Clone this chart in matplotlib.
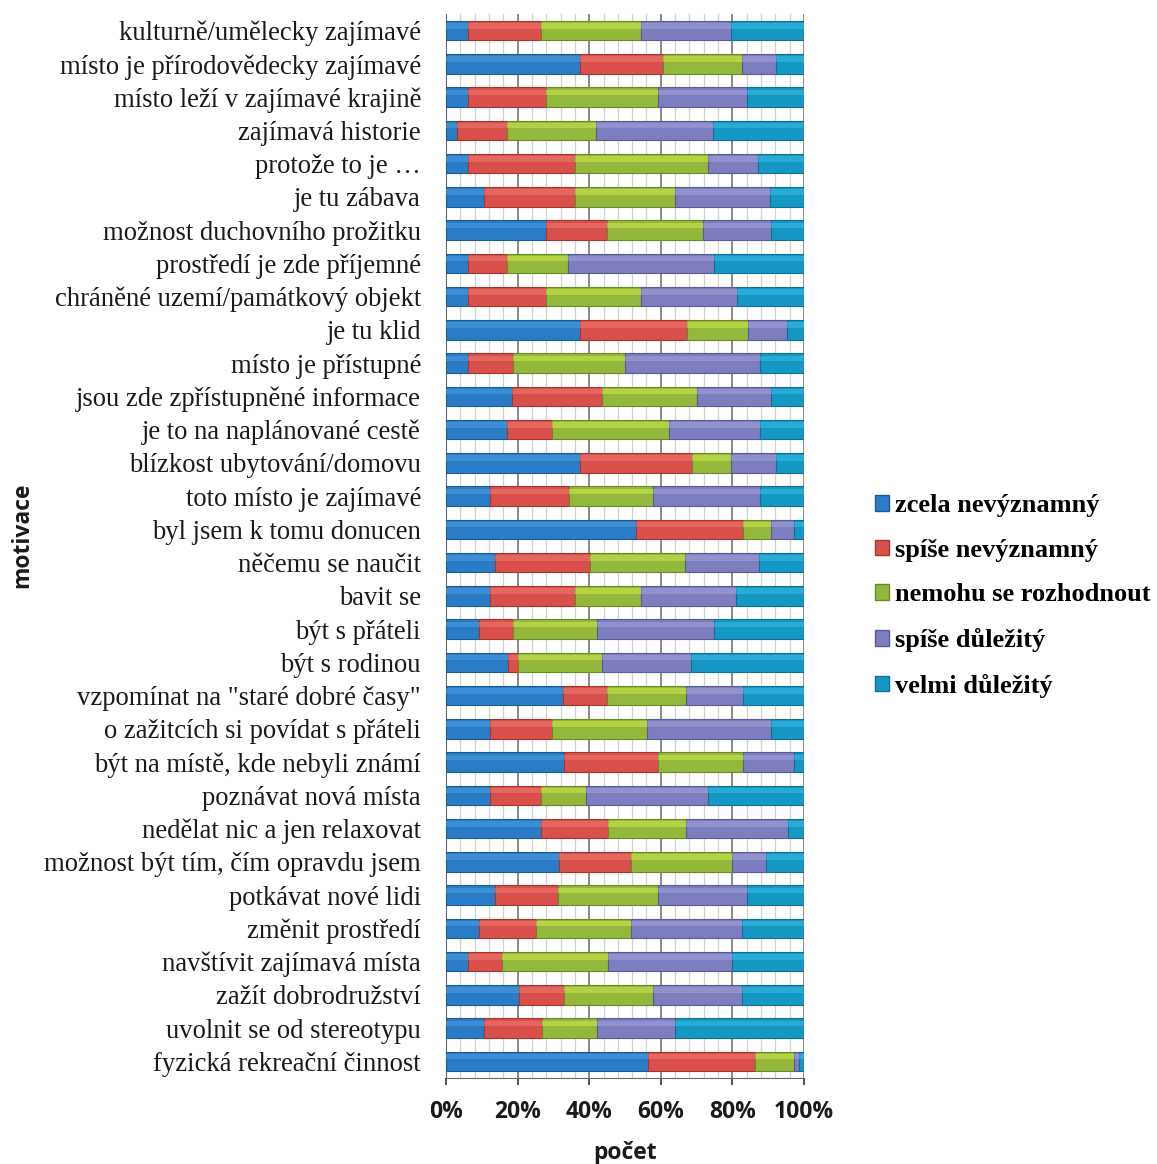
import matplotlib
matplotlib.use("Agg")
import matplotlib.pyplot as plt
import numpy as np
from matplotlib.patches import Patch

categories = [
    "kulturně/umělecky zajímavé",
    "místo je přírodovědecky zajímavé",
    "místo leží v zajímavé krajině",
    "zajímavá historie",
    "protože to je …",
    "je tu zábava",
    "možnost duchovního prožitku",
    "prostředí je zde příjemné",
    "chráněné uzemí/památkový objekt",
    "je tu klid",
    "místo je přístupné",
    "jsou zde zpřístupněné informace",
    "je to na naplánované cestě",
    "blízkost ubytování/domovu",
    "toto místo je zajímavé",
    "byl jsem k tomu donucen",
    "něčemu se naučit",
    "bavit se",
    "být s přáteli",
    "být s rodinou",
    "vzpomínat na \"staré dobré časy\"",
    "o zažitcích si povídat s přáteli",
    "být na místě, kde nebyli známí",
    "poznávat nová místa",
    "nedělat nic a jen relaxovat",
    "možnost být tím, čím opravdu jsem",
    "potkávat nové lidi",
    "změnit prostředí",
    "navštívit zajímavá místa",
    "zažít dobrodružství",
    "uvolnit se od stereotypu",
    "fyzická rekreační činnost",
]

series_names = ["zcela nevýznamný", "spíše nevýznamný", "nemohu se rozhodnout",
                "spíše důležitý", "velmi důležitý"]

zcela_nevyznamny = [6.1, 37.3, 6.1, 3.0, 6.1, 10.7, 28.0, 6.1, 6.1, 37.4, 6.1, 18.5, 17.1, 37.4, 12.4, 53.0,
                    13.8, 12.4, 9.2, 17.3, 32.8, 12.3, 32.9, 12.3, 26.6, 31.5, 13.8, 9.3, 6.1, 20.4, 10.7, 56.3]
spise_nevyznamny = [20.5, 23.3, 21.9, 14.0, 29.8, 25.2, 17.0, 10.9, 21.9, 29.8, 12.6, 25.0, 12.5, 31.3, 21.9, 29.9,
                    26.5, 23.6, 9.6, 2.8, 12.3, 17.3, 26.4, 14.3, 18.6, 20.1, 17.5, 15.7, 9.6, 12.5, 16.2, 29.9]
nemohu = [28.0, 22.0, 31.2, 25.0, 37.3, 28.0, 26.7, 17.1, 26.4, 17.1, 31.3, 26.6, 32.7, 10.9, 23.4, 7.9,
          26.5, 18.5, 23.3, 23.6, 22.0, 26.5, 23.6, 12.4, 21.8, 28.2, 28.0, 26.7, 29.6, 24.9, 15.3, 11.0]
spise_dulezity = [25.0, 9.6, 24.8, 32.6, 14.0, 26.6, 19.1, 40.7, 26.9, 11.0, 37.6, 20.6, 25.3, 12.7, 29.9, 6.4,
                  20.6, 26.6, 32.8, 24.8, 15.9, 34.7, 14.2, 34.3, 28.5, 9.5, 24.8, 31.0, 34.6, 24.9, 21.8, 1.4]
velmi_dulezity = [20.4, 7.8, 16.0, 25.4, 12.8, 9.5, 9.2, 25.2, 18.7, 4.7, 12.4, 9.3, 12.4, 7.7, 12.4, 2.8,
                  12.6, 18.9, 25.1, 31.5, 17.0, 9.2, 2.9, 26.7, 4.5, 10.7, 15.9, 17.3, 20.1, 17.3, 36.0, 1.4]

colors = ["#2a7cc7", "#d9504a", "#93b83c", "#7d7dbf", "#1598c4"]
tops = ["#4d9ee0", "#ec7a72", "#d6e64e", "#a3a3da", "#3bbbe6"]
edges = ["#1a5c96", "#a8332f", "#6a8a26", "#5a5a98", "#0e7296"]

data = np.array([zcela_nevyznamny, spise_nevyznamny, nemohu, spise_dulezity, velmi_dulezity])
data = data / data.sum(axis=0) * 100

fig = plt.figure(figsize=(11.57, 11.64), dpi=100)
ax = fig.add_axes([446 / 1157, 1 - 1078 / 1164, 358 / 1157, (1078 - 14) / 1164])

y = np.arange(len(categories))
h = 0.58
left = np.zeros(len(categories))
for i in range(5):
    ax.barh(y, data[i], left=left, height=h, color=colors[i], edgecolor=edges[i],
            linewidth=0.8, zorder=3)
    ax.barh(y - h * 0.25, data[i], left=left, height=h * 0.28, color=tops[i],
            edgecolor="none", alpha=0.55, zorder=4)
    left += data[i]

ax.set_xlim(0, 100)
ax.set_ylim(len(categories) - 0.5, -0.5)
ax.set_yticks(y)
ax.set_yticklabels(categories, family="Liberation Serif", fontsize=19.2, color="#1a1a1a")
ax.tick_params(axis="y", length=0, pad=18)

ax.set_xticks(np.arange(0, 101, 20))
ax.set_xticklabels([f"{v}%" for v in range(0, 101, 20)], family="Open Sans",
                   fontweight="bold", fontsize=16.5, color="#1a1a1a")
ax.set_xticks(np.arange(0, 101, 4), minor=True)
ax.tick_params(axis="x", which="major", length=5, width=1.2, color="#333333", pad=11)
ax.tick_params(axis="x", which="minor", length=0)

ax.grid(axis="x", which="minor", color="#d0d0d0", linewidth=0.9, zorder=0)
ax.grid(axis="x", which="major", color="#6a6a6a", linewidth=1.1, zorder=1)
ax.set_axisbelow(True)

for s in ["top", "right"]:
    ax.spines[s].set_visible(False)
ax.spines["left"].set_color("#666666")
ax.spines["bottom"].set_color("#666666")

ax.set_xlabel("počet", family="Open Sans", fontweight="bold", fontsize=16.5, labelpad=12,
              color="#1a1a1a")
ax.set_ylabel("motivace", family="Open Sans", fontweight="bold", fontsize=16.5, color="#1a1a1a")
ax.yaxis.set_label_coords(-1.15, 0.51)

handles = [Patch(facecolor=colors[i], edgecolor=edges[i]) for i in range(5)]
fig.legend(handles, series_names, loc="center left", bbox_to_anchor=(851 / 1157, 1 - 596 / 1164),
           frameon=False, prop={"family": "Liberation Serif", "weight": "bold", "size": 19},
           handlelength=0.55, handleheight=0.55, handletextpad=0.2, labelspacing=0.82)

fig.savefig("out.png", dpi=100, facecolor="white")
